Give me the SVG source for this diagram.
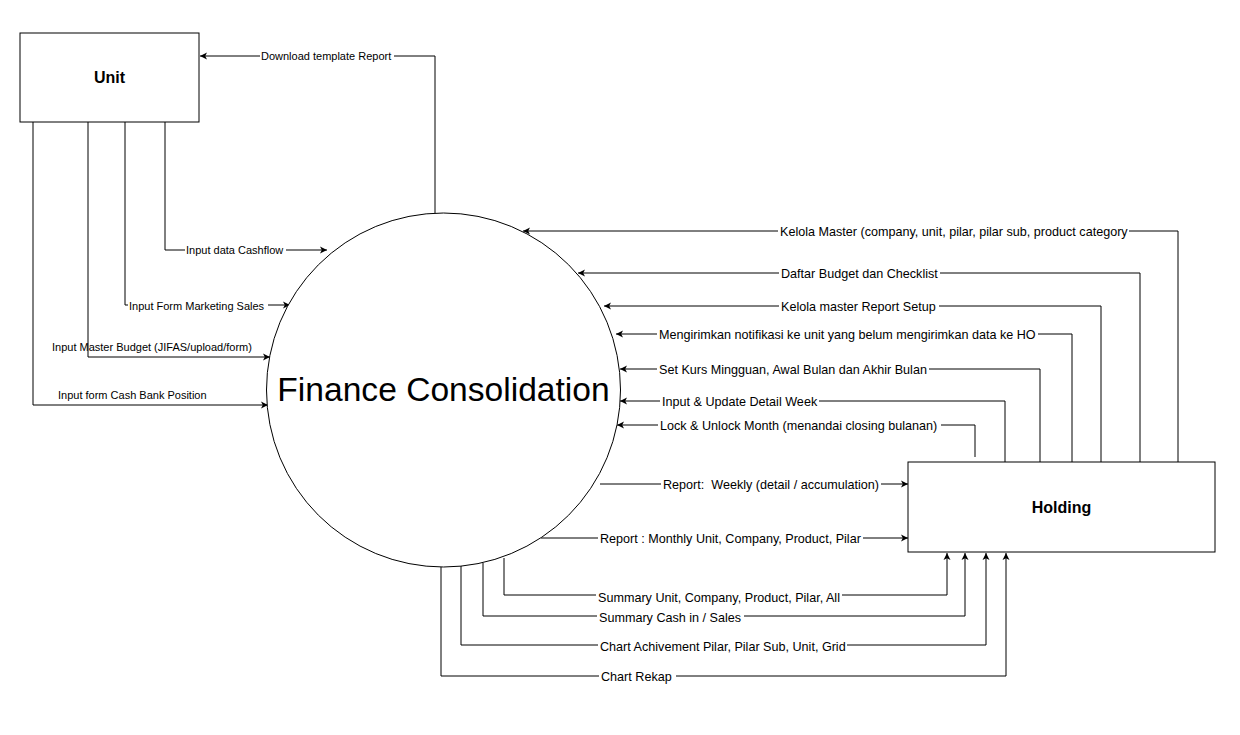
<svg xmlns="http://www.w3.org/2000/svg" width="1240" height="735" viewBox="0 0 1240 735">
<defs>
<marker id="arr" markerWidth="8" markerHeight="8" refX="7" refY="4" orient="auto" markerUnits="userSpaceOnUse">
<path d="M0,0.5 L7,4 L0,7.5 L1.8,4 z" fill="#000"/>
</marker>
<style>
.box{fill:#fff;stroke:#000;stroke-width:1}
.c{fill:none;stroke:#000;stroke-width:1;marker-end:url(#arr)}
.bg{fill:#fff;stroke:none}
.l{font-family:"Liberation Sans",Arial,sans-serif;font-size:11px;fill:#000}
.r{font-family:"Liberation Sans",Arial,sans-serif;font-size:12.6px;fill:#000}
.t{font-family:"Liberation Sans",Arial,sans-serif;font-weight:bold;font-size:16px;fill:#000;text-anchor:middle}
.big{font-family:"Liberation Sans",Arial,sans-serif;font-size:33.6px;fill:#000;text-anchor:middle}
</style>
</defs>
<rect width="1240" height="735" fill="#fff"/>
<g id="connectors">
<polyline class="c" points="435,213 435,56 200,56"/>
<polyline class="c" points="165,122 165,250 327,250"/>
<polyline class="c" points="125,122 125,305 290,305"/>
<polyline class="c" points="88,122 88,357 270,357"/>
<polyline class="c" points="33,122 33,405 268,405"/>
<polyline class="c" points="1178,462 1178,231 523,231"/>
<polyline class="c" points="1140,462 1140,273 578,273"/>
<polyline class="c" points="1101,462 1101,306 604,306"/>
<polyline class="c" points="1072,462 1072,334 616,334"/>
<polyline class="c" points="1040,462 1040,369 620,369"/>
<polyline class="c" points="1005,462 1005,401 620,401"/>
<polyline class="c" points="975,457 975,425 617,425"/>
<polyline class="c" points="600,484 908,484"/>
<polyline class="c" points="541,538 908,538"/>
<polyline class="c" points="504,558 504,595 947,595 947,553"/>
<polyline class="c" points="483,563 483,616 965,616 965,553"/>
<polyline class="c" points="461,565 461,645 986,645 986,553"/>
<polyline class="c" points="441,567 441,676 1006,676 1006,553"/>
<rect class="bg" x="260" y="49" width="134" height="14"/>
<rect class="bg" x="185" y="243" width="101" height="14"/>
<rect class="bg" x="128" y="298" width="140" height="14"/>
<rect class="bg" x="778" y="224" width="351" height="14"/>
<rect class="bg" x="779" y="266" width="161" height="14"/>
<rect class="bg" x="779" y="299" width="160" height="14"/>
<rect class="bg" x="657" y="327" width="381" height="14"/>
<rect class="bg" x="657" y="362" width="272" height="14"/>
<rect class="bg" x="660" y="394" width="159" height="14"/>
<rect class="bg" x="658" y="418" width="283" height="14"/>
<rect class="bg" x="661" y="477" width="220" height="14"/>
<rect class="bg" x="598" y="531" width="265" height="14"/>
<rect class="bg" x="596" y="588" width="246" height="14"/>
<rect class="bg" x="597" y="609" width="147" height="14"/>
<rect class="bg" x="598" y="638" width="249" height="14"/>
<rect class="bg" x="599" y="669" width="77" height="14"/>
<text class="l" x="261" y="60">Download template Report</text>
<text class="l" x="186" y="254">Input data Cashflow</text>
<text class="l" x="129" y="310">Input Form Marketing Sales</text>
<text class="l" x="52" y="351">Input Master Budget (JIFAS/upload/form)</text>
<text class="l" x="58" y="399">Input form Cash Bank Position</text>
<text class="r" x="780" y="235.5">Kelola Master (company, unit, pilar, pilar sub, product category</text>
<text class="r" x="781" y="277.5">Daftar Budget dan Checklist</text>
<text class="r" x="781" y="310.5">Kelola master Report Setup</text>
<text class="r" x="659" y="338.5">Mengirimkan notifikasi ke unit yang belum mengirimkan data ke HO</text>
<text class="r" x="659" y="373.5">Set Kurs Mingguan, Awal Bulan dan Akhir Bulan</text>
<text class="r" x="662" y="406">Input &amp; Update Detail Week</text>
<text class="r" x="660" y="429.5">Lock &amp; Unlock Month (menandai closing bulanan)</text>
<text class="r" x="663" y="488.5">Report:&#160; Weekly (detail / accumulation)</text>
<text class="r" x="600" y="542.5">Report : Monthly Unit, Company, Product, Pilar</text>
<text class="r" x="598" y="602">Summary Unit, Company, Product, Pilar, All</text>
<text class="r" x="599" y="622">Summary Cash in / Sales</text>
<text class="r" x="600" y="651">Chart Achivement Pilar, Pilar Sub, Unit, Grid</text>
<text class="r" x="601" y="681">Chart Rekap</text>
</g>
<g id="unit">
<rect class="box" x="20" y="33" width="179" height="89"/>
<text class="t" x="109.5" y="83">Unit</text>
</g>
<g id="finance">
<circle class="box" cx="443.5" cy="390" r="177"/>
<text class="big" x="443.5" y="401">Finance Consolidation</text>
</g>
<g id="holding">
<rect class="box" x="908" y="462" width="307" height="90"/>
<text class="t" x="1061.5" y="513">Holding</text>
</g>
</svg>
